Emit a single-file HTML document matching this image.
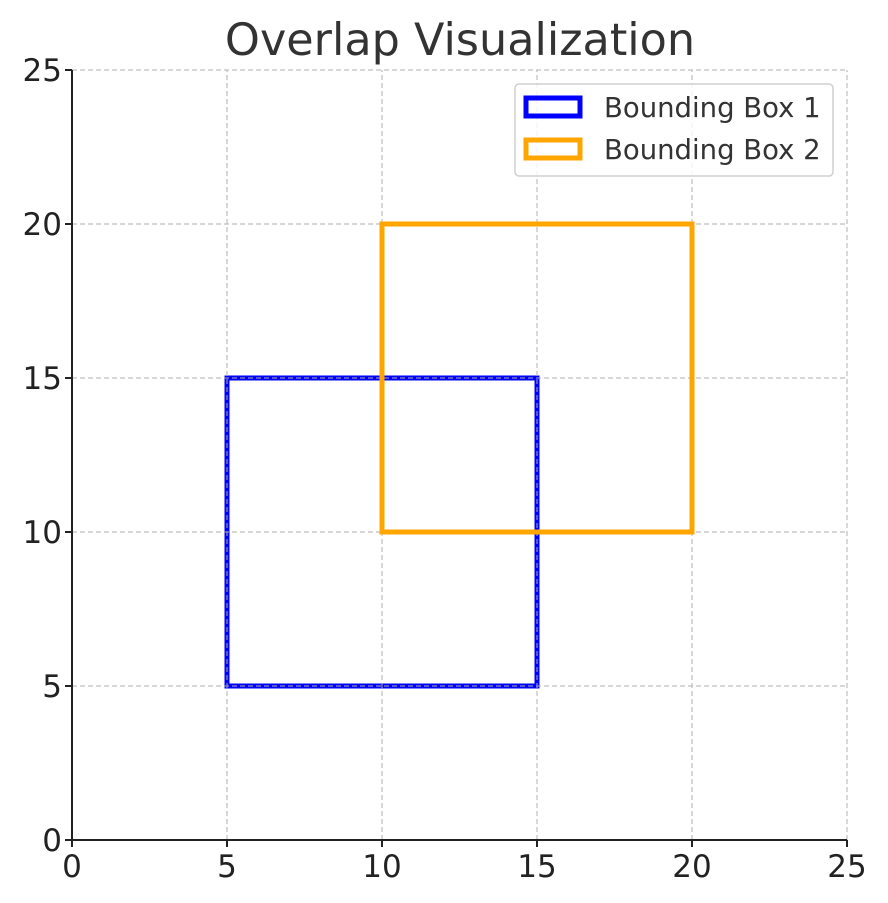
<!DOCTYPE html>
<html><head><meta charset="utf-8"><style>body{margin:0;background:#fff}svg{display:block;font-family:"DejaVu Sans","Liberation Sans",sans-serif}</style></head>
<body>
<svg id="chart" width="888" height="903"></svg>
<script>
const xTicks=[0,5,10,15,20,25];
const yTicks=[0,5,10,15,20,25];
const boxNames=["Bounding Box 1","Bounding Box 2"];
const boxX1=[5,10];
const boxY1=[5,10];
const boxX2=[15,20];
const boxY2=[15,20];
const boxColors=["#0000ff","#ffa500"];
const NS="http://www.w3.org/2000/svg";
const svg=document.getElementById('chart');
const X=v=>72+v*(847-72)/25, Y=v=>840-v*(840-70)/25;
function mk(t,a,p){const e=document.createElementNS(NS,t);for(const k in a)e.setAttribute(k,a[k]);(p||svg).appendChild(e);return e;}
function box(i){const r=mk('rect',{x:X(boxX1[i]),y:Y(boxY2[i]),width:X(boxX2[i])-X(boxX1[i]),height:Y(boxY1[i])-Y(boxY2[i]),fill:'none',stroke:boxColors[i],'stroke-width':5});

}
box(0);
const grid=mk('g',{stroke:'#b0b0b0','stroke-width':1.2,'stroke-dasharray':'5,3',opacity:0.8});


xTicks.forEach(t=>mk('line',{x1:X(t),x2:X(t),y1:Y(0),y2:Y(25)},grid));
yTicks.forEach(t=>mk('line',{x1:X(0),x2:X(25),y1:Y(t),y2:Y(t)},grid));
box(1);
const ax=mk('g',{stroke:'#222','stroke-width':2});


mk('line',{x1:X(0),x2:X(0),y1:Y(0),y2:Y(25)},ax);
mk('line',{x1:X(0),x2:X(25),y1:Y(0),y2:Y(0)},ax);
xTicks.forEach(t=>{mk('line',{x1:X(t),x2:X(t),y1:Y(0),y2:Y(0)+7},ax);
const tx=mk('text',{x:X(t),y:877,'text-anchor':'middle','font-size':31,fill:'#222'});tx.textContent=t;

});
yTicks.forEach(t=>{mk('line',{x1:X(0)-7,x2:X(0),y1:Y(t),y2:Y(t)},ax);
const tx=mk('text',{x:62,y:Y(t)+11,'text-anchor':'end','font-size':31,fill:'#222'});tx.textContent=t;

});
const ti=mk('text',{x:460,y:55,'text-anchor':'middle','font-size':44.5,fill:'#333'});ti.textContent='Overlap Visualization';


const lg=mk('g',{});


mk('rect',{x:515,y:84,width:318,height:92,rx:4,fill:'#fff','fill-opacity':0.8,stroke:'#d0d0d0','stroke-width':1.5},lg);
boxNames.forEach((n,i)=>{const yy=107+i*42;
mk('rect',{x:526,y:yy-9,width:54,height:18,fill:'none',stroke:boxColors[i],'stroke-width':5},lg);
const tx=mk('text',{x:604,y:yy+10,'font-size':27.5,fill:'#333'},lg);tx.textContent=n;

});
</script>
</body></html>
